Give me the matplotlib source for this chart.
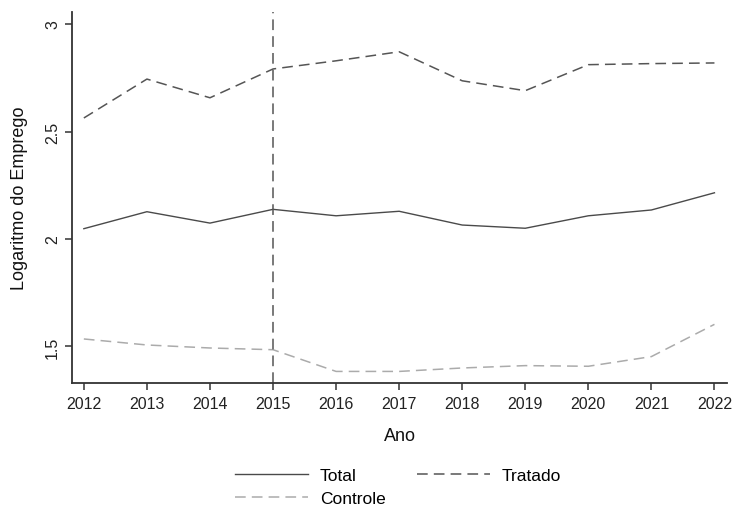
import matplotlib
matplotlib.use("Agg")
import matplotlib.pyplot as plt

plt.rcParams['font.family'] = ['Liberation Sans', 'DejaVu Sans']

anos = [2012, 2013, 2014, 2015, 2016, 2017, 2018, 2019, 2020, 2021, 2022]
total = [2.048, 2.127, 2.074, 2.138, 2.108, 2.129, 2.065, 2.050, 2.108, 2.135, 2.215]
tratado = [2.563, 2.744, 2.657, 2.791, 2.829, 2.871, 2.736, 2.690, 2.811, 2.816, 2.819]
controle = [1.535, 1.507, 1.493, 1.485, 1.384, 1.384, 1.400, 1.411, 1.408, 1.453, 1.603]
ano_tratamento = 2015
yticks = [1.5, 2, 2.5, 3]
ytick_labels = ["1.5", "2", "2.5", "3"]

fig = plt.figure(figsize=(7.33, 5.10), dpi=100)
ax = fig.add_axes([0.0989, 0.247, 0.893, 0.7275])

h_total, = ax.plot(anos, total, color='#4a4a4a', lw=1.0, ls='-', label='Total')
h_trat, = ax.plot(anos, tratado, color='#555555', lw=1.1, ls=(0, (7, 4)), label='Tratado')
h_ctrl, = ax.plot(anos, controle, color='#ababab', lw=1.1, ls=(0, (7, 4)), label='Controle')
ax.axvline(ano_tratamento, color='#555555', lw=1.1, ls=(0, (7, 4)))

ax.set_xlim(2011.82, 2022.2)
ax.set_ylim(1.33, 3.056)
ax.set_xticks(anos)
ax.set_xticklabels([str(a) for a in anos])
ax.set_yticks(yticks)
ax.set_yticklabels(ytick_labels, rotation=90, va='center')

for s in ['top', 'right']:
    ax.spines[s].set_visible(False)
for s in ['left', 'bottom']:
    ax.spines[s].set_color('#333333')
    ax.spines[s].set_linewidth(1.3)
ax.tick_params(axis='both', direction='out', length=5, width=1.1, color='#333333',
               labelsize=11.5, labelcolor='#222222', pad=4)

ax.set_xlabel('Ano', fontsize=13, color='#111111', labelpad=12)
ax.set_ylabel('Logaritmo do Emprego', fontsize=13, color='#111111', labelpad=12)

# column-major order: first column Total/Controle, second column Tratado
fig.legend([h_total, h_ctrl, h_trat], ['Total', 'Controle', 'Tratado'],
           loc='center', bbox_to_anchor=(0.543, 0.043), ncol=2, frameon=False,
           fontsize=12.5, handlelength=4.2, handletextpad=0.7, columnspacing=1.8,
           labelspacing=0.45)

fig.savefig('out.png', dpi=100)
